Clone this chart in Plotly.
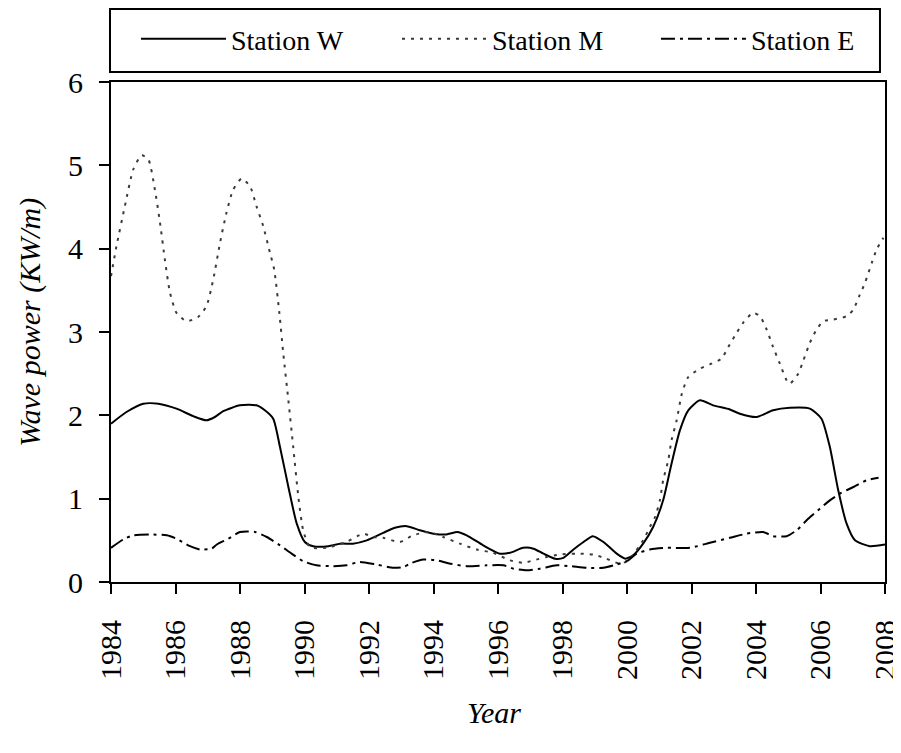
import plotly.graph_objects as go

# ---- data ----
w_years = [1984.0, 1984.48, 1985.0, 1985.47, 1986.03, 1986.55, 1986.96, 1987.22, 1987.48, 1988.0,
           1988.51, 1988.77, 1989.03, 1989.24, 1989.5, 1989.76, 1990.01, 1990.27, 1990.74, 1991.1,
           1991.5, 1991.93, 1992.44, 1992.8, 1993.17, 1993.58, 1994.0, 1994.4, 1994.74, 1995.03,
           1995.54, 1996.06, 1996.37, 1996.78, 1997.1, 1997.41, 1997.77, 1998.03, 1998.34, 1998.65,
           1998.94, 1999.27, 1999.68, 1999.95, 2000.19, 2000.5, 2000.81, 2001.12, 2001.38, 2001.64,
           2001.9, 2002.26, 2002.67, 2003.19, 2003.5, 2004.02, 2004.53, 2005.05, 2005.67, 2006.03,
           2006.29, 2006.55, 2006.81, 2007.07, 2007.53, 2008.0]
w_values = [1.90, 2.04, 2.14, 2.14, 2.08, 1.99, 1.94, 1.98, 2.05, 2.12,
            2.12, 2.06, 1.96, 1.62, 1.14, 0.70, 0.48, 0.43, 0.43, 0.46,
            0.46, 0.50, 0.59, 0.65, 0.67, 0.62, 0.58, 0.57, 0.60, 0.56,
            0.44, 0.34, 0.35, 0.41, 0.40, 0.34, 0.28, 0.29, 0.39, 0.48,
            0.55, 0.48, 0.34, 0.28, 0.32, 0.46, 0.66, 0.98, 1.42, 1.82,
            2.06, 2.18, 2.12, 2.07, 2.02, 1.98, 2.06, 2.09, 2.08, 1.96,
            1.62, 1.10, 0.70, 0.50, 0.43, 0.45]

m_years = [1984.0, 1984.17, 1984.43, 1984.69, 1984.95, 1985.16, 1985.36, 1985.52, 1985.67, 1985.83,
           1986.03, 1986.34, 1986.7, 1986.96, 1987.17, 1987.38, 1987.58, 1987.79, 1988.05, 1988.31,
           1988.51, 1988.72, 1988.93, 1989.06, 1989.22, 1989.34, 1989.5, 1989.65, 1989.81, 1989.96,
           1990.17, 1990.68, 1991.3, 1991.82, 1992.13, 1992.44, 1992.96, 1993.37, 1993.84, 1994.3,
           1994.82, 1995.34, 1995.85, 1996.37, 1996.78, 1997.1, 1997.51, 1997.92, 1998.43, 1998.95,
           1999.36, 1999.78, 2000.04, 2000.5, 2000.71, 2000.87, 2001.02, 2001.12, 2001.28, 2001.38,
           2001.54, 2001.7, 2001.9, 2002.26, 2002.62, 2002.93, 2003.14, 2003.4, 2003.6, 2003.91,
           2004.12, 2004.33, 2004.53, 2004.74, 2004.95, 2005.05, 2005.31, 2005.47, 2005.67, 2005.88,
           2006.09, 2006.4, 2006.81, 2007.02, 2007.2, 2007.38, 2007.59, 2007.74, 2007.95]
m_values = [3.67, 4.03, 4.51, 4.95, 5.12, 5.07, 4.71, 4.31, 3.87, 3.47,
            3.23, 3.13, 3.18, 3.31, 3.63, 4.07, 4.43, 4.71, 4.84, 4.75,
            4.51, 4.27, 3.95, 3.75, 3.23, 2.75, 2.18, 1.62, 1.02, 0.62,
            0.42, 0.41, 0.48, 0.58, 0.54, 0.53, 0.48, 0.56, 0.60, 0.54,
            0.46, 0.39, 0.35, 0.26, 0.23, 0.26, 0.30, 0.33, 0.34, 0.33,
            0.28, 0.22, 0.26, 0.50, 0.66, 0.78, 0.98, 1.22, 1.46, 1.70,
            1.94, 2.26, 2.46, 2.56, 2.62, 2.68, 2.82, 2.99, 3.11, 3.23,
            3.19, 3.03, 2.82, 2.62, 2.42, 2.38, 2.50, 2.66, 2.87, 3.03,
            3.13, 3.15, 3.19, 3.27, 3.43, 3.59, 3.83, 3.99, 4.13]

e_years = [1984.0, 1984.38, 1984.69, 1985.21, 1985.73, 1986.03, 1986.45, 1986.76, 1987.12, 1987.28,
           1987.64, 1988.0, 1988.47, 1988.83, 1989.24, 1989.6, 1989.96, 1990.37, 1990.88, 1991.3,
           1991.71, 1992.23, 1992.76, 1993.07, 1993.33, 1993.69, 1994.1, 1994.52, 1995.03, 1995.65,
           1996.17, 1996.48, 1996.9, 1997.3, 1997.82, 1998.24, 1998.76, 1999.27, 1999.68, 2000.04,
           2000.3, 2000.71, 2001.23, 2001.95, 2002.57, 2003.19, 2003.71, 2004.22, 2004.53, 2004.95,
           2005.26, 2005.62, 2005.98, 2006.29, 2006.6, 2007.02, 2007.43, 2007.8]
e_values = [0.41, 0.51, 0.56, 0.57, 0.56, 0.52, 0.43, 0.39, 0.40, 0.45,
            0.52, 0.60, 0.60, 0.54, 0.44, 0.34, 0.25, 0.20, 0.19, 0.20,
            0.24, 0.21, 0.17, 0.18, 0.23, 0.27, 0.26, 0.22, 0.19, 0.20,
            0.20, 0.16, 0.14, 0.16, 0.20, 0.19, 0.17, 0.17, 0.21, 0.26,
            0.34, 0.39, 0.41, 0.41, 0.47, 0.53, 0.58, 0.60, 0.55, 0.55,
            0.62, 0.76, 0.88, 0.98, 1.06, 1.14, 1.22, 1.25]

x_ticks = list(range(1984, 2009, 2))
y_ticks = [0, 1, 2, 3, 4, 5, 6]

FONT = "Liberation Serif, Times New Roman, serif"

fig = go.Figure()
fig.add_trace(go.Scatter(x=w_years, y=w_values, name="Station W", mode="lines", legend="legend",
                         line=dict(color="black", width=2, shape="spline", smoothing=0.6)))
fig.add_trace(go.Scatter(x=m_years, y=m_values, name="Station M", mode="lines", legend="legend2",
                         line=dict(color="#3a3a3a", width=2, dash="3px,6px", shape="spline", smoothing=0.6)))
fig.add_trace(go.Scatter(x=e_years, y=e_values, name="Station E", mode="lines", legend="legend3",
                         line=dict(color="black", width=2, dash="14px,5px,3px,5px", shape="spline", smoothing=0.6)))

axis_common = dict(showgrid=False, zeroline=False, showline=True, linecolor="black", linewidth=2,
                   mirror=True, ticks="outside", tickcolor="black", tickwidth=2, ticklen=10,
                   automargin=False, ticklabeloverflow="allow",
                   tickfont=dict(family=FONT, size=30, color="black"))

fig.update_xaxes(range=[1984, 2008], tickvals=x_ticks, ticktext=[str(v) for v in x_ticks],
                 tickangle=-90, ticklabelstandoff=14, **axis_common)
fig.update_yaxes(range=[0, 6], tickvals=y_ticks, ticklabelstandoff=10, **axis_common)

# legend frame (paper coordinates)
fig.add_shape(type="rect", xref="paper", yref="paper",
              x0=-0.0013, x1=0.9935, y0=1.02, y1=1.146,
              line=dict(color="black", width=2), fillcolor="white", layer="below")

fig.add_annotation(text="<i>Year</i>", xref="paper", yref="paper", x=0.495, y=-0.26,
                   xanchor="center", yanchor="middle", showarrow=False,
                   font=dict(family=FONT, size=30, color="black"))
fig.add_annotation(text="<i>Wave power (KW/m)</i>", xref="paper", yref="paper", x=-0.105, y=0.52,
                   xanchor="center", yanchor="middle", showarrow=False, textangle=-90,
                   font=dict(family=FONT, size=30, color="black"))

leg_common = dict(orientation="h", xanchor="left", yref="container", y=0.958, yanchor="middle",
                  borderwidth=0, bgcolor="rgba(0,0,0,0)",
                  font=dict(family=FONT, size=28, color="black"), itemwidth=85)

fig.update_layout(
    width=893, height=737,
    margin=dict(l=103, r=16, t=74, b=163),
    paper_bgcolor="white", plot_bgcolor="white",
    font=dict(family=FONT, size=28, color="black"),
    showlegend=True,
    legend=dict(x=0.0323, **leg_common),
    legend2=dict(x=0.3695, **leg_common),
    legend3=dict(x=0.7041, **leg_common),
)

fig.write_html("out.html")
